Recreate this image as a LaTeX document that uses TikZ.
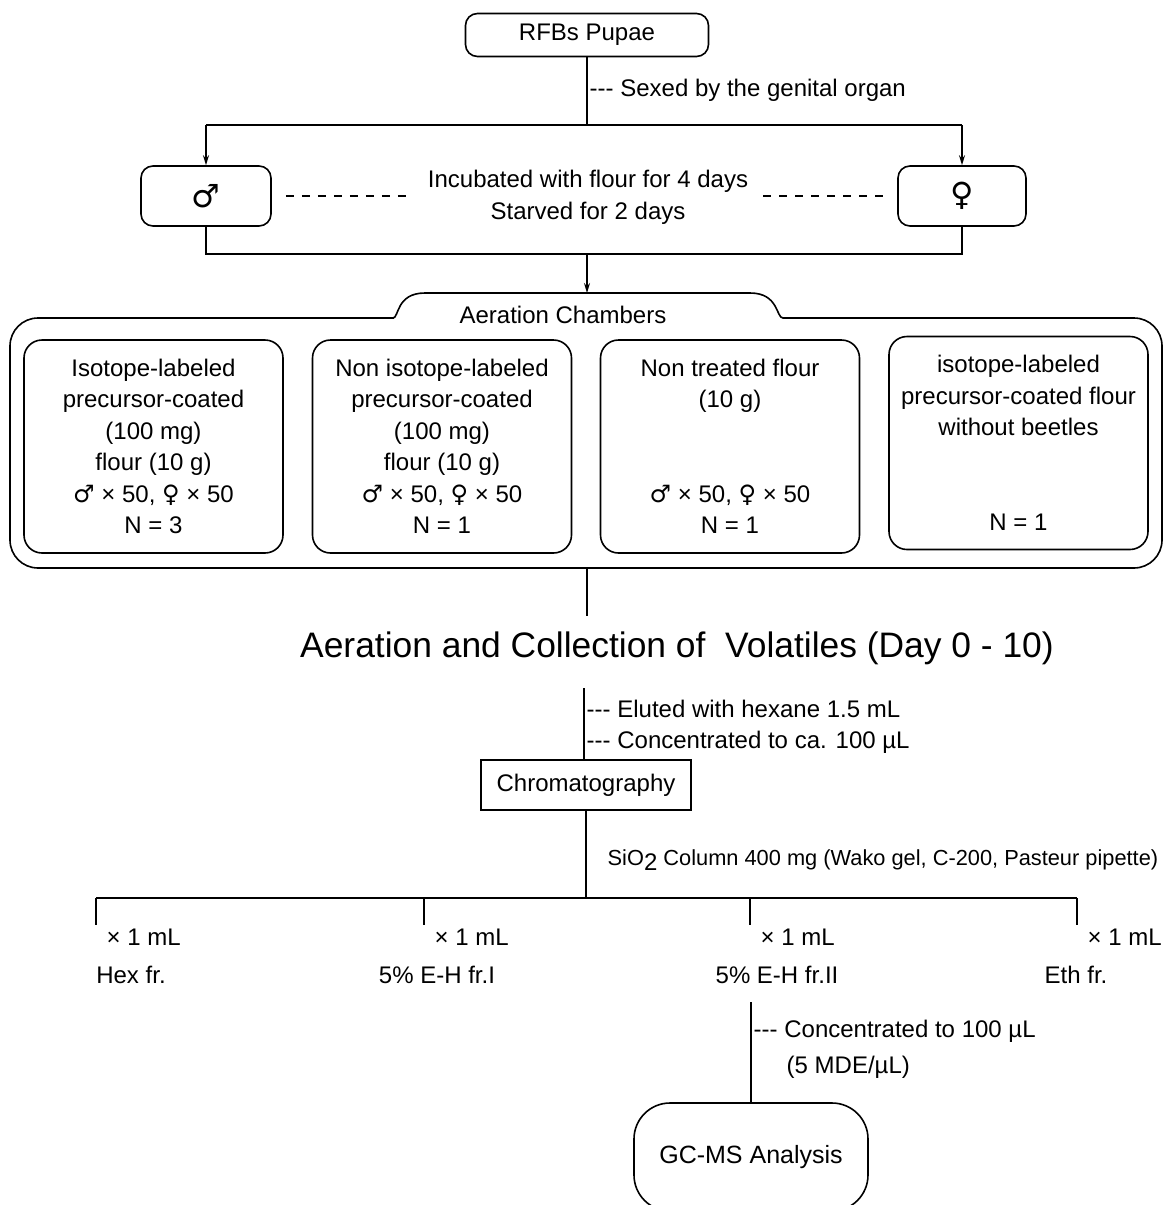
\documentclass[tikz,border=0pt]{standalone}
\usepackage{fontspec}
\setmainfont{Liberation Sans}
\newfontfamily\symfont{DejaVu Sans}
\usetikzlibrary{positioning,arrows.meta}
\newcommand{\ddd}{\mbox{-}\mbox{-}\mbox{-}}
\newcommand{\mal}{{\symfont ♂}}
\newcommand{\fem}{{\symfont ♀}}

\begin{document}
\begin{tikzpicture}[x=0.5pt,y=-0.5pt,line width=0.7pt,>={Stealth[length=5pt,width=3pt]},
	font=\fontsize{12}{15.75}\selectfont,
	main box/.style = {draw,line width=0.8pt,rounded corners=6pt,align=center,inner sep=0pt},
	chamber/.style = {draw,line width=0.8pt,rounded corners=9pt,align=center,inner sep=0pt,
		minimum width=129.5pt,minimum height=106.5pt},
	note/.style = {anchor=west,inner sep=0pt,align=left},
	dots/.style = {dash pattern=on 4pt off 4pt}]

\useasboundingbox (0,0) rectangle (1171,1205);

% pupae and sexing
\node[main box,minimum width=121.5pt,minimum height=21.5pt] (pupae) at (587,35) {RFBs Pupae};
\node[note] (sexed) at (589,90) {\ddd{} Sexed by the genital organ};
\coordinate (split) at (587,125);

\node[main box,minimum width=65pt,minimum height=30pt] (male) at (206,196) {\fontsize{16}{16}\selectfont\mal};
\node[main box,minimum width=64pt,minimum height=30pt] (female) at (962,196) {\fontsize{16}{16}\selectfont\fem};
\node[align=center,font=\fontsize{12}{16}\selectfont] (incub) at (588,197) {Incubated with flour for 4 days\\Starved for 2 days};

\draw (pupae) -- (split);
\draw (split -| male) -- (split -| female);
\draw[->] (split -| male) -- (male);
\draw[->] (split -| female) -- (female);
\draw[dots] ([xshift=7pt]male.east) -- ([xshift=-5pt]incub.west |- male.east);
\draw[dots] ([xshift=4pt]incub.east |- female.west) -- ([xshift=-6pt]female.west);

\coordinate (join) at (587,254);
\coordinate (tabtop) at (587,293);
\draw (male) -- (join -| male) -- (join -| female) -- (female);
\draw[->] (join) -- (tabtop);

% aeration chambers
\draw[line width=0.8pt] (393,318) .. controls (399,318) and (396,293) .. (425,293) -- (750,293)
	.. controls (779,293) and (776,318) .. (783,318)
	[rounded corners=14pt] -- (1162,318) -- (1162,568) -- (10,568) -- (10,318) -- (394,318);
\node (chambers) at (563,315) {Aeration Chambers};

\node[chamber] (ch1) at (153.5,446.5) {Isotope-labeled\\precursor-coated\\(100 mg)\\flour (10 g)\\\mal{} × 50, \fem{} × 50\\N = 3};
\node[chamber] (ch2) at (442,446.5) {Non isotope-labeled\\precursor-coated\\(100 mg)\\flour (10 g)\\\mal{} × 50, \fem{} × 50\\N = 1};
\node[chamber] (ch3) at (730,446.5) {Non treated flour\\(10 g)\\ \\ \\\mal{} × 50, \fem{} × 50\\N = 1};
\node[chamber] (ch4) at (1018.5,443) {isotope-labeled\\precursor-coated flour\\without beetles\\ \\ \\N = 1};

% collection
\coordinate (chbot) at (587,568);
\coordinate (colbot) at (587,616);
\node (collect) at (677,648) {\fontsize{17.7}{20}\selectfont Aeration and Collection of\ \ Volatiles (Day 0 - 10)};
\draw (chbot) -- (colbot);

\coordinate (coltop) at (584,688);
\node[draw,line width=0.8pt,minimum width=105pt,minimum height=25pt,inner sep=0pt] (chrom) at (586,785) {Chromatography};
\draw (coltop) -- (coltop |- chrom.north);
\node[note] (eluted) at (586,709) {\ddd{} Eluted with hexane 1.5 mL};
\node[note] (conc) at (586,742) {\ddd{} Concentrated to ca. 100 µL};
\node[note,font=\fontsize{10.9}{12}\selectfont] (column) at (607,860) {SiO\raisebox{-0.45ex}{\fontsize{12}{12}\selectfont 2} Column 400 mg (Wako gel, C-200, Pasteur pipette)};

% fractions
\foreach \i/\x/\fx/\name in {1/96/131/Hex fr.,2/424/437/5\% E-H fr.I,3/750/777/5\% E-H fr.II,4/1077/1076/Eth fr.}{
	\coordinate (t\i) at (\x,898);
	\coordinate (b\i) at (\x,925);
	\draw (t\i) -- (b\i);
	\node[note] (vol\i) at (\x+10,937) {× 1 mL};
	\node (frac\i) at (\fx,975) {\name};
}
\draw[line width=0.8pt] (t1) -- (t4);
\draw (chrom) -- (chrom |- t1);

% gc-ms
\node[main box,rounded corners=18pt,minimum width=117pt,minimum height=54pt,font=\fontsize{12.5}{15}\selectfont] (gcms) at (751,1157) {GC-MS Analysis};
\coordinate (c3) at (751,1002);
\draw (c3) -- (gcms);
\node[note] (conc2) at (753,1031) {\ddd{} Concentrated to 100 µL};
\node[note] (mde) at (786,1067) {(5 MDE/µL)};

\end{tikzpicture}
\end{document}
